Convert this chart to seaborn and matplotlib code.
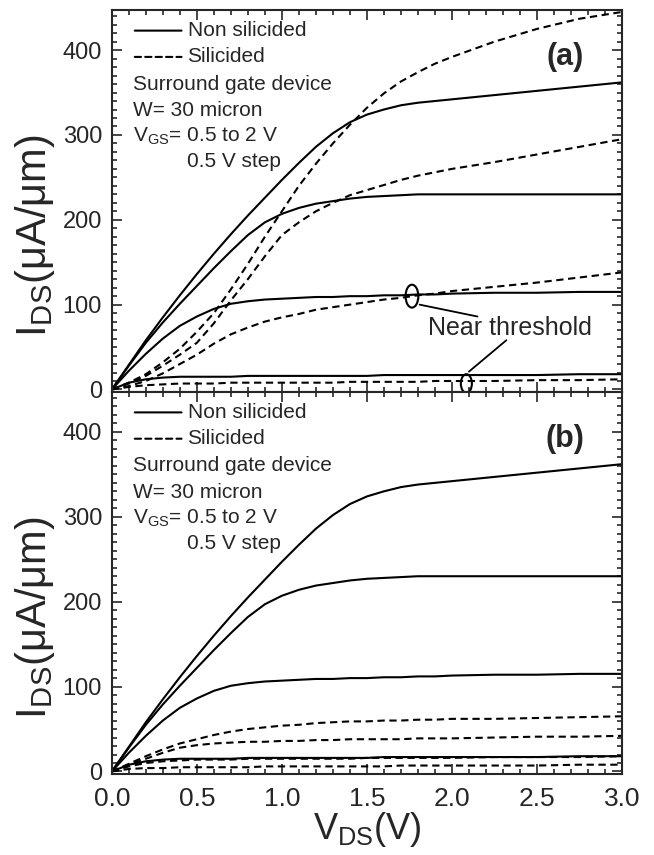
import numpy as np
import pandas as pd
import matplotlib
matplotlib.use("Agg")
import matplotlib.pyplot as plt
from matplotlib.patches import Ellipse
from matplotlib.ticker import MultipleLocator
import seaborn as sns

# ---------------- data ----------------
vds = [0, 0.1, 0.2, 0.3, 0.4, 0.5, 0.6, 0.7, 0.8, 0.9, 1.0, 1.1, 1.2, 1.3, 1.4, 1.5,
       1.6, 1.7, 1.8, 1.9, 2.0, 2.25, 2.5, 2.75, 3.0]

# Non silicided (solid), VGS = 2.0, 1.5, 1.0, 0.5 V  (same in both panels)
ns_vgs20 = [0, 29, 58, 85, 111, 136, 160, 183, 205, 226, 247, 267, 286, 302, 315, 324,
            330, 335, 338, 340, 342, 347, 352, 357, 362]
ns_vgs15 = [0, 28, 55, 79, 101, 122, 143, 163, 182, 197, 207, 214, 219, 222, 225, 227,
            228, 229, 230, 230, 230, 230, 230, 230, 230]
ns_vgs10 = [0, 22, 42, 60, 75, 86, 95, 101, 104, 106, 107, 108, 109, 109, 110, 110,
            111, 111, 112, 112, 113, 114, 114, 115, 115]
ns_vgs05 = [0, 8, 12, 14, 15, 15, 15, 15, 16, 16, 16, 16, 16, 16, 16, 16,
            17, 17, 17, 17, 17, 17, 17, 18, 18]

# Silicided (dashed), panel (a)
sa_vgs20 = [0, 8, 18, 32, 48, 68, 90, 118, 148, 180, 210, 240, 266, 290, 312, 332,
            349, 363, 374, 384, 392, 410, 425, 437, 445]
sa_vgs15 = [0, 7, 16, 28, 41, 55, 78, 105, 130, 157, 182, 197, 210, 220, 229, 235,
            241, 247, 252, 256, 260, 268, 277, 286, 295]
sa_vgs10 = [0, 4, 10, 19, 30, 41, 54, 65, 73, 80, 85, 89, 94, 97, 100, 103,
            106, 108, 111, 113, 116, 121, 126, 132, 138]
sa_vgs05 = [0, 3, 5, 6, 7, 7, 7, 8, 8, 8, 8, 8, 8, 8, 9, 9,
            9, 9, 9, 10, 10, 10, 11, 11, 12]

# Silicided (dashed), panel (b)
sb_vgs20 = [0, 9, 18, 26, 33, 38, 43, 47, 50, 52, 54, 55, 57, 58, 59, 59,
            60, 60, 61, 61, 62, 62, 63, 64, 65]
sb_vgs15 = [0, 8, 15, 22, 28, 31, 33, 34, 35, 35, 36, 36, 37, 37, 38, 38,
            38, 38, 39, 39, 39, 40, 41, 41, 42]
sb_vgs10 = [0, 6, 10, 12, 13, 14, 14, 14, 15, 15, 15, 15, 15, 15, 15, 16,
            16, 16, 16, 16, 16, 17, 17, 17, 18]
sb_vgs05 = [0, 3, 4, 4, 5, 5, 5, 5, 5, 6, 6, 6, 6, 6, 6, 6,
            6, 7, 7, 7, 7, 7, 7, 8, 8]

x_ticks = [0.0, 0.5, 1.0, 1.5, 2.0, 2.5, 3.0]
y_ticks = [0, 100, 200, 300, 400]
legend_texts = ["Non silicided", "Silicided", "Surround gate device", "W= 30 micron",
                r"V$_{\rm GS}$= 0.5 to 2 V", "0.5 V step"]

# ---------------- style ----------------
sns.set_style("ticks")
plt.rcParams['font.family'] = ['Liberation Sans', 'DejaVu Sans']
plt.rcParams['mathtext.fontset'] = 'custom'
plt.rcParams['mathtext.rm'] = 'Liberation Sans'
plt.rcParams['mathtext.it'] = 'Liberation Sans:italic'
plt.rcParams['mathtext.bf'] = 'Liberation Sans:bold'

fig = plt.figure(figsize=(6.54, 8.55), dpi=100)
L, R = 0.171, 0.951
ax1 = fig.add_axes([L, 0.5415, R - L, 0.988 - 0.5415])
ax2 = fig.add_axes([L, 0.0947, R - L, 0.5415 - 0.0947])

solid_sets = [ns_vgs20, ns_vgs15, ns_vgs10, ns_vgs05]
dash_a = [sa_vgs20, sa_vgs15, sa_vgs10, sa_vgs05]
dash_b = [sb_vgs20, sb_vgs15, sb_vgs10, sb_vgs05]

lw = 1.5
for ax, dsets, tag in [(ax1, dash_a, "(a)"), (ax2, dash_b, "(b)")]:
    for s in solid_sets:
        sns.lineplot(x=vds, y=s, ax=ax, color="black", linewidth=lw, linestyle="-")
    for d in dsets:
        sns.lineplot(x=vds, y=d, ax=ax, color="black", linewidth=lw, linestyle=(0, (3.5, 2.2)))
    ax.set_xlim(0, 3.0)
    ax.set_ylim(-3, 447)
    ax.set_xticks(x_ticks)
    ax.set_yticks(y_ticks)
    ax.xaxis.set_minor_locator(MultipleLocator(0.1))
    ax.yaxis.set_minor_locator(MultipleLocator(10))
    ax.tick_params(which="both", direction="in", top=True, right=True, width=1.2)
    ax.tick_params(which="major", length=7)
    ax.tick_params(which="minor", length=3.5)
    ax.tick_params(axis="y", which="major", labelsize=17, pad=7)
    ax.tick_params(axis="x", which="major", labelsize=19, pad=9)
    for sp in ax.spines.values():
        sp.set_linewidth(1.5)
    ax.set_ylabel(r"I$_{\rm DS}$(μA/μm)", fontsize=30)
    ax.yaxis.set_label_coords(-0.108, 0.41)
    ax.set_xlabel("")
    # legend-like text block
    ax.annotate("", xy=(0.41, 423), xytext=(0.135, 423),
                arrowprops=dict(arrowstyle="-", color="black", lw=lw, shrinkA=0, shrinkB=0))
    ax.annotate("", xy=(0.41, 392), xytext=(0.135, 392),
                arrowprops=dict(arrowstyle="-", color="black", lw=lw, linestyle=(0, (3, 2)),
                                shrinkA=0, shrinkB=0))
    ax.text(0.445, 423, legend_texts[0], fontsize=15, va="center")
    ax.text(0.445, 392, legend_texts[1], fontsize=15, va="center")
    ax.text(0.125, 360, legend_texts[2], fontsize=15, va="center")
    ax.text(0.125, 329, legend_texts[3], fontsize=15, va="center")
    ax.text(0.125, 298, legend_texts[4], fontsize=15, va="center")
    ax.text(0.44, 269, legend_texts[5], fontsize=15, va="center")
    ax.text(2.665, 392, tag, fontsize=22, fontweight="bold", ha="center", va="center")

ax1.tick_params(labelbottom=False)
ax2.set_xlabel(r"V$_{\rm DS}$(V)", fontsize=26)
ax2.xaxis.set_label_coords(0.5, -0.094)

# Near threshold annotation on panel (a)
ax1.add_patch(Ellipse((1.765, 110), 0.075, 27, fill=False, lw=1.5, ec="black"))
ax1.add_patch(Ellipse((2.085, 7), 0.065, 22, fill=False, lw=1.5, ec="black"))
ax1.text(2.34, 72, "Near threshold", fontsize=18, ha="center", va="center")
ax1.annotate("", xy=(1.81, 100), xytext=(2.15, 86),
             arrowprops=dict(arrowstyle="-", color="black", lw=1.3, shrinkA=0, shrinkB=0))
ax1.annotate("", xy=(2.10, 21), xytext=(2.32, 58),
             arrowprops=dict(arrowstyle="-", color="black", lw=1.3, shrinkA=0, shrinkB=0))

fig.savefig("out.png", dpi=100)
